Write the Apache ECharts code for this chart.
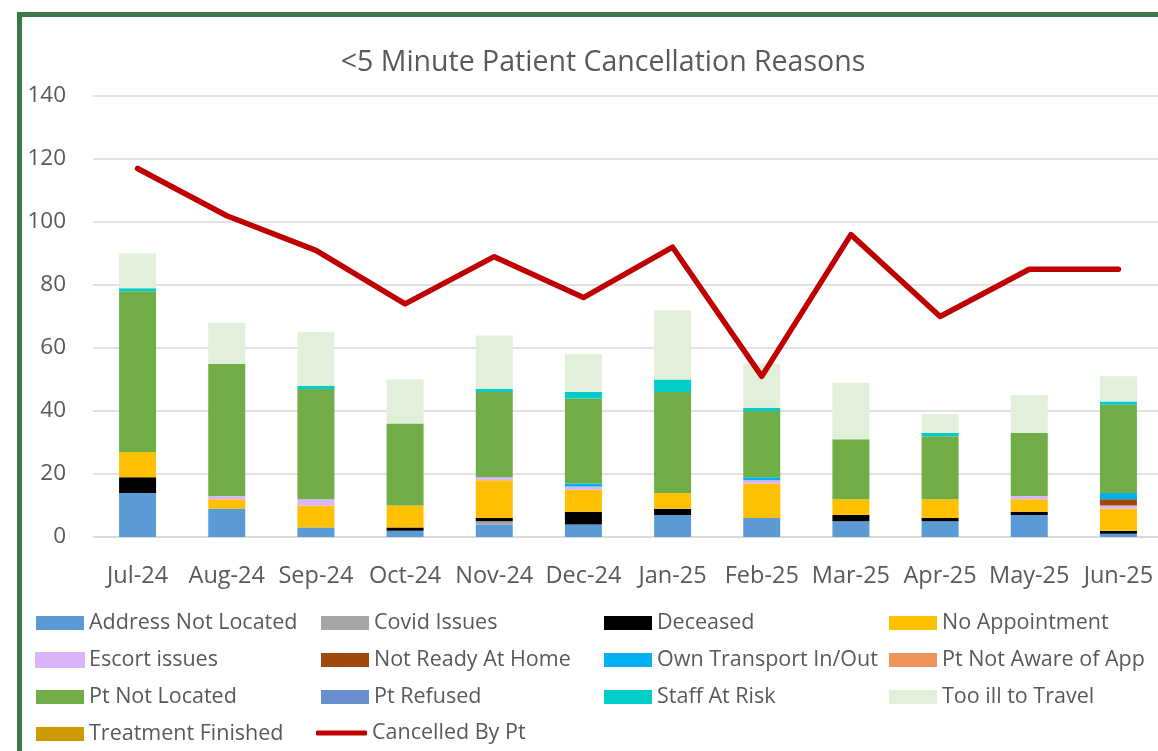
<!DOCTYPE html>
<html>
<head>
<meta charset="utf-8">
<script src="https://cdn.jsdelivr.net/npm/echarts@6/dist/echarts.min.js"></script>
<style>
  html, body { margin: 0; padding: 0; background: #ffffff; overflow: hidden; }
  #chart { position: absolute; left: 0; top: 0; width: 1200px; height: 751px; }
  #frame {
    position: absolute; left: 17px; top: 12px; width: 1400px; height: 900px;
    border-left: 5px solid #3B7845; border-top: 5px solid #3B7845;
    pointer-events: none; z-index: 2;
  }
</style>
</head>
<body>
<div id="chart"></div>
<div id="frame"></div>
<script>
// Months on the x axis
const months = ['Jul-24', 'Aug-24', 'Sep-24', 'Oct-24', 'Nov-24', 'Dec-24',
                'Jan-25', 'Feb-25', 'Mar-25', 'Apr-25', 'May-25', 'Jun-25'];

// Cancellation reasons per month (stacked bars, bottom to top)
const addressNotLocated = [14, 9, 3, 2, 4, 4, 7, 6, 5, 5, 7, 1];
const covidIssues       = [0, 0, 0, 0, 1, 0, 0, 0, 0, 0, 0, 0];
const deceased          = [5, 0, 0, 1, 1, 4, 2, 0, 2, 1, 1, 1];
const noAppointment     = [8, 3, 7, 7, 12, 7, 5, 11, 5, 6, 4, 7];
const escortIssues      = [0, 1, 2, 0, 1, 1, 0, 1, 0, 0, 1, 1];
const notReadyAtHome    = [0, 0, 0, 0, 0, 0, 0, 0, 0, 0, 0, 2];
const ownTransport      = [0, 0, 0, 0, 0, 1, 0, 1, 0, 0, 0, 2];
const ptNotAwareOfApp   = [0, 0, 0, 0, 0, 0, 0, 0, 0, 0, 0, 0];
const ptNotLocated      = [51, 42, 35, 26, 27, 27, 32, 21, 19, 20, 20, 28];
const ptRefused         = [0, 0, 0, 0, 0, 0, 0, 0, 0, 0, 0, 0];
const staffAtRisk       = [1, 0, 1, 0, 1, 2, 4, 1, 0, 1, 0, 1];
const tooIllToTravel    = [11, 13, 17, 14, 17, 12, 22, 14, 18, 6, 12, 8];
const treatmentFinished = [0, 0, 0, 0, 0, 0, 0, 0, 0, 0, 0, 0];

// Total cancelled by patient (line)
const cancelledByPt = [117, 102, 91, 74, 89, 76, 92, 51, 96, 70, 85, 85];

// Y axis ticks
const yTicks = { min: 0, max: 140, interval: 20 };

const FONT = '"Open Sans", "Noto Sans", sans-serif';
const TEXT = '#595959';

const barDefs = [
  ['Address Not Located', addressNotLocated, '#5B9BD5'],
  ['Covid Issues', covidIssues, '#A5A5A5'],
  ['Deceased', deceased, '#000000'],
  ['No Appointment', noAppointment, '#FFC000'],
  ['Escort issues', escortIssues, '#D9B5FA'],
  ['Not Ready At Home', notReadyAtHome, '#9E480E'],
  ['Own Transport In/Out', ownTransport, '#00B0F0'],
  ['Pt Not Aware of App', ptNotAwareOfApp, '#F0955A'],
  ['Pt Not Located', ptNotLocated, '#70AD47'],
  ['Pt Refused', ptRefused, '#6A8FD0'],
  ['Staff At Risk', staffAtRisk, '#00CCC8'],
  ['Too ill to Travel', tooIllToTravel, '#E2EFDA'],
  ['Treatment Finished', treatmentFinished, '#CC9A00']
];

const barSeries = barDefs.map(([name, values, color]) => ({
  name: name,
  type: 'bar',
  stack: 'reasons',
  barWidth: 37,
  data: values.map(v => (v === 0 ? null : v)),
  itemStyle: name === 'Escort issues'
    ? { color: color, borderColor: color, borderWidth: 2 }
    : { color: color },
  emphasis: { disabled: true }
}));

const lineSeries = {
  name: 'Cancelled By Pt',
  type: 'line',
  data: cancelledByPt,
  symbol: 'none',
  z: 5,
  lineStyle: { color: '#C00000', width: 5.5, cap: 'round', join: 'round' },
  itemStyle: { color: '#C00000' }
};

const legendText = { fontSize: 21.5, color: TEXT, fontFamily: FONT };
function column(x, names) {
  return {
    orient: 'vertical',
    left: x,
    top: 612,
    padding: 0,
    itemWidth: 48,
    itemHeight: 14,
    itemGap: 15,
    icon: 'rect',
    selectedMode: false,
    textStyle: legendText,
    data: names
  };
}

const option = {
  animation: false,
  backgroundColor: 'transparent',
  title: {
    text: '<5 Minute Patient Cancellation Reasons',
    left: 598,
    top: 43,
    textAlign: 'center',
    textStyle: { fontSize: 28.5, fontWeight: 'normal', color: TEXT, fontFamily: FONT }
  },
  grid: { left: 93, right: 37, top: 96, bottom: 214, containLabel: false },
  legend: [
    column(35, ['Address Not Located', 'Escort issues', 'Pt Not Located', 'Treatment Finished']),
    column(321, ['Covid Issues', 'Not Ready At Home', 'Pt Refused']),
    column(604, ['Deceased', 'Own Transport In/Out', 'Staff At Risk']),
    column(889, ['No Appointment', 'Pt Not Aware of App', 'Too ill to Travel']),
    {
      left: 316,
      top: 722,
      padding: 0,
      itemWidth: 51,
      itemHeight: 5,
      selectedMode: false,
      textStyle: legendText,
      data: [{ name: 'Cancelled By Pt', icon: 'roundRect', itemStyle: { color: '#C00000' } }]
    }
  ],
  xAxis: {
    type: 'category',
    data: months,
    axisLine: { show: true, lineStyle: { color: '#D9D9D9', width: 1.5 } },
    axisTick: { show: false },
    axisLabel: { fontSize: 23.5, color: TEXT, fontFamily: FONT, margin: 27, interval: 0 }
  },
  yAxis: {
    type: 'value',
    min: yTicks.min,
    max: yTicks.max,
    interval: yTicks.interval,
    axisLine: { show: false },
    axisTick: { show: false },
    splitLine: { lineStyle: { color: '#D9D9D9', width: 1.5 } },
    axisLabel: { fontSize: 22.5, color: TEXT, fontFamily: FONT, margin: 27 }
  },
  series: barSeries.concat([lineSeries])
};

const chart = echarts.init(document.getElementById('chart'), null, { renderer: 'canvas' });
chart.setOption(option);
</script>
</body>
</html>
